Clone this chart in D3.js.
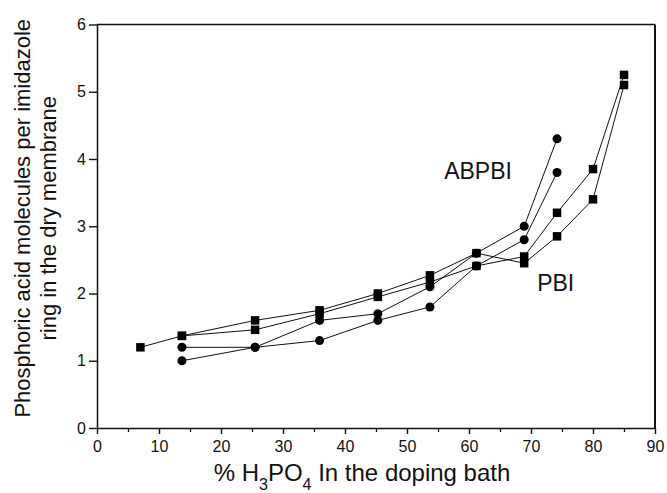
<!DOCTYPE html>
<html>
<head>
<meta charset="utf-8">
<script src="https://cdn.jsdelivr.net/npm/d3@7"></script>
<style>
  body { margin: 0; background: #fff; }
  svg { display: block; font-family: "Liberation Sans", Arial, sans-serif; }
</style>
</head>
<body>
<script>
// values
var abpbiA_x = [13.7, 25.5, 35.9, 45.3, 53.7, 61.2, 68.9, 74.2];
var abpbiA_y = [1.2, 1.2, 1.6, 1.7, 2.1, 2.6, 3.0, 4.3];
var abpbiB_x = [13.7, 25.5, 35.9, 45.3, 53.7, 61.2, 68.9, 74.2];
var abpbiB_y = [1.0, 1.2, 1.3, 1.6, 1.8, 2.41, 2.8, 3.8];
var pbiA_x = [13.7, 25.5, 35.9, 45.3, 53.7, 61.2, 68.9, 74.2, 80.0, 85.0];
var pbiA_y = [1.37, 1.6, 1.75, 2.0, 2.27, 2.6, 2.45, 2.85, 3.4, 5.1];
var pbiB_x = [7.0, 13.7, 25.5, 35.9, 45.3, 53.7, 61.2, 68.9, 74.2, 80.0, 85.0];
var pbiB_y = [1.2, 1.37, 1.46, 1.7, 1.95, 2.17, 2.41, 2.55, 3.2, 3.85, 5.25];

var xTicks = [0, 10, 20, 30, 40, 50, 60, 70, 80, 90];
var xMinor = [5, 15, 25, 35, 45, 55, 65, 75, 85];
var yTicks = [0, 1, 2, 3, 4, 5, 6];

var screen = { width: 667, height: 493 };
var margins = { top: 24.5, left: 97, right: 12, bottom: 65 };
var width = screen.width - margins.left - margins.right;
var height = screen.height - margins.top - margins.bottom;

var svg = d3.select('body')
            .append('svg')
            .attr('width', screen.width)
            .attr('height', screen.height);

var xScale = d3.scaleLinear().domain([0, 90]).range([0, width]);
var yScale = d3.scaleLinear().domain([0, 6]).range([height, 0]);

var plot = svg.append('g')
              .attr('transform', 'translate(' + margins.left + ',' + margins.top + ')');

// frame top and right
plot.append('line')
    .attr('x1', 0).attr('x2', width).attr('y1', 0).attr('y2', 0)
    .attr('stroke', '#111').attr('stroke-width', 1.4);
plot.append('line')
    .attr('x1', width).attr('x2', width).attr('y1', 0).attr('y2', height)
    .attr('stroke', '#111').attr('stroke-width', 2);

// minor x ticks
plot.append('g')
    .attr('transform', 'translate(0,' + height + ')')
    .call(d3.axisBottom(xScale).tickValues(xMinor).tickSize(4).tickFormat(''))
    .call(function(g){ g.select('.domain').remove(); })
    .selectAll('line').attr('stroke', '#111').attr('stroke-width', 1.3);

var xAxis = plot.append('g')
    .attr('transform', 'translate(0,' + height + ')')
    .call(d3.axisBottom(xScale).tickValues(xTicks).tickSize(6).tickSizeOuter(0)
            .tickPadding(7).tickFormat(d3.format('d')));
xAxis.select('.domain').attr('stroke', '#111').attr('stroke-width', 1.5);
xAxis.selectAll('line').attr('stroke', '#111').attr('stroke-width', 1.4);
xAxis.selectAll('text').attr('font-size', 16).attr('fill', '#111')
     .attr('font-family', '"Liberation Sans", Arial, sans-serif');

var yAxis = plot.append('g')
    .call(d3.axisLeft(yScale).tickValues(yTicks).tickSize(8).tickSizeOuter(0)
            .tickPadding(3).tickFormat(d3.format('d')));
yAxis.select('.domain').attr('stroke', '#111').attr('stroke-width', 1.5);
yAxis.selectAll('line').attr('stroke', '#111').attr('stroke-width', 1.4);
yAxis.selectAll('text').attr('font-size', 16).attr('fill', '#111')
     .attr('font-family', '"Liberation Sans", Arial, sans-serif');

var series = [
  { xs: abpbiA_x, ys: abpbiA_y, shape: 'circle' },
  { xs: abpbiB_x, ys: abpbiB_y, shape: 'circle' },
  { xs: pbiA_x, ys: pbiA_y, shape: 'square' },
  { xs: pbiB_x, ys: pbiB_y, shape: 'square' }
];

var line = d3.line()
             .x(function(d){ return xScale(d[0]); })
             .y(function(d){ return yScale(d[1]); });

series.forEach(function(s){
  s.points = s.xs.map(function(x, i){ return [x, s.ys[i]]; });
  plot.append('path')
      .attr('d', line(s.points))
      .attr('fill', 'none')
      .attr('stroke', '#111')
      .attr('stroke-width', 1);
});

var sym = {
  circle: d3.symbol().type(d3.symbolCircle).size(64),
  square: d3.symbol().type(d3.symbolSquare).size(72)
};

series.forEach(function(s){
  plot.append('g').selectAll('path')
      .data(s.points)
      .enter()
      .append('path')
      .attr('transform', function(d){ return 'translate(' + xScale(d[0]) + ',' + yScale(d[1]) + ')'; })
      .attr('d', sym[s.shape])
      .attr('fill', '#000');
});

// series labels
plot.append('text')
    .attr('x', xScale(56.0)).attr('y', yScale(3.7))
    .attr('font-size', 23).attr('fill', '#111')
    .text('ABPBI');
plot.append('text')
    .attr('x', xScale(71.0)).attr('y', yScale(2.03))
    .attr('font-size', 23).attr('fill', '#111')
    .text('PBI');

// x axis title with subscripts
var xt = svg.append('text')
    .attr('x', 362)
    .attr('y', 481)
    .attr('text-anchor', 'middle')
    .attr('font-size', 24)
    .attr('fill', '#111');
xt.append('tspan').text('% H');
xt.append('tspan').attr('font-size', 16).attr('dy', 9).text('3');
xt.append('tspan').attr('dy', -9).text('PO');
xt.append('tspan').attr('font-size', 16).attr('dy', 9).text('4');
xt.append('tspan').attr('dy', -9).text(' In the doping bath');

// y axis title, two lines
var yt = svg.append('text')
    .attr('transform', 'translate(30,' + (margins.top + height / 2 - 8) + ') rotate(-90)')
    .attr('text-anchor', 'middle')
    .attr('font-size', 22)
    .attr('fill', '#111');
yt.append('tspan').attr('x', 0).attr('dy', 0).text('Phosphoric acid molecules per imidazole');
yt.append('tspan').attr('x', 0).attr('dy', 26).text('ring in the dry membrane');
</script>
</body>
</html>
